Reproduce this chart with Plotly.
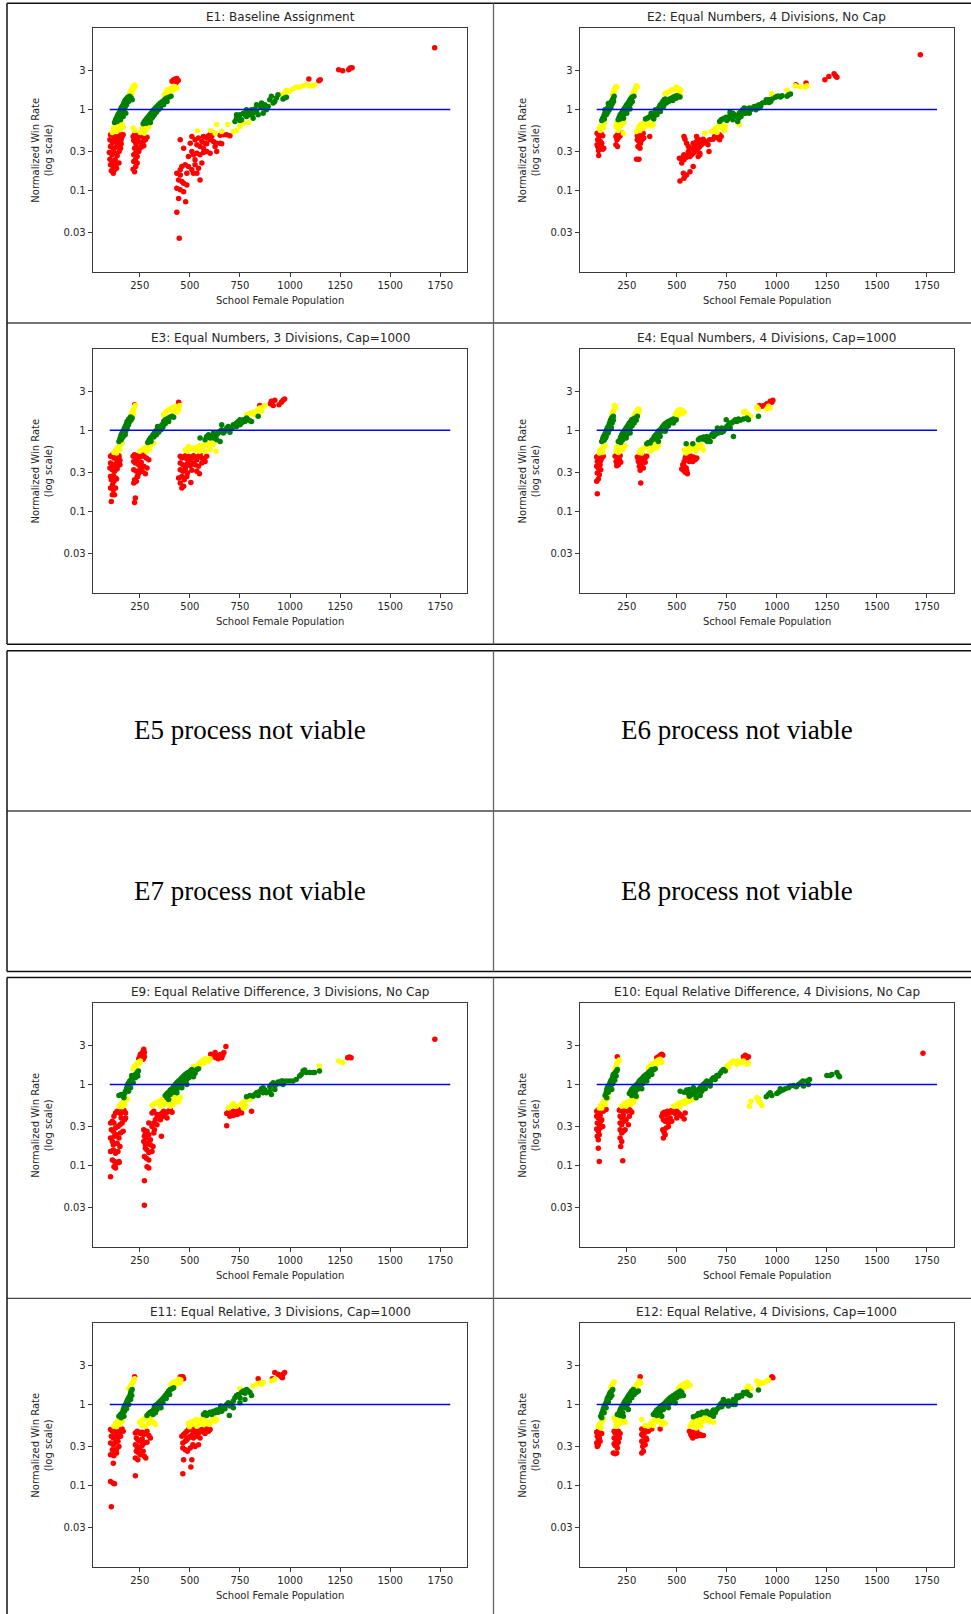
import plotly.graph_objects as go

# ---------------------------------------------------------------------------
# Data: (school female population, normalized win rate) per colour band
# ---------------------------------------------------------------------------
E1_RED = [(104,0.487),(113,0.50),(121,0.464),(129,0.487),(137,0.443),(146,0.473),(154,0.50),(162,0.464),(101,0.422),(113,0.392),(124,0.414),(137,0.377),(151,0.403),(157,0.422),(104,0.349),(118,0.324),(129,0.342),(141,0.356),(154,0.333),(98,0.295),(111,0.276),(124,0.289),(137,0.268),(147,0.303),(101,0.244),(114,0.228),(127,0.239),(137,0.218),(104,0.208),(118,0.194),(129,0.202),(108,0.176),(118,0.164),(124,0.18),(134,0.189),(146,0.218),(157,0.377),(167,0.487),
          (217,0.464),(224,0.487),(233,0.455),(240,0.473),(250,0.487),(262,0.464),(273,0.473),(286,0.455),(220,0.414),(230,0.384),(240,0.422),(253,0.392),(267,0.403),(278,0.422),(224,0.333),(233,0.349),(245,0.324),(257,0.342),(270,0.356),(220,0.276),(228,0.289),(237,0.263),(245,0.303),(220,0.228),(228,0.239),(237,0.218),(217,0.183),(224,0.171),(230,0.198),
          (411,2.22),(419,2.32),(427,2.37),(435,2.41),(442,2.28),(432,2.15),
          (469,0.333),(452,0.422),(502,0.384),(510,0.464),(526,0.422),(535,0.366),(543,0.443),(551,0.349),(560,0.403),(568,0.333),(576,0.384),(584,0.443),(593,0.473),(601,0.422),(609,0.464),(618,0.403),(626,0.349),(634,0.303),(651,0.384),(510,0.303),(518,0.276),(535,0.289),(551,0.276),(568,0.295),(584,0.303),(601,0.289),(493,0.263),(526,0.239),(560,0.218),(477,0.208),(493,0.198),(510,0.18),(526,0.208),(543,0.189),(460,0.198),(452,0.18),(435,0.164),(444,0.135),(460,0.129),(469,0.123),(435,0.107),(452,0.102),(469,0.097),(485,0.117),(551,0.135),(444,0.08),(435,0.054),(447,0.0258),(479,0.073),(535,0.164),(518,0.164),(452,0.156),(485,0.164),(584,0.377),(618,0.51),(604,0.50),(651,0.48),(667,0.487),(684,0.487),(700,0.473),(659,0.377),(634,0.384),(568,0.464),
          (1094,2.37),(1144,2.26),(1151,2.32),(1243,3.09),(1263,3.0),(1293,3.09),(1300,3.24),(1310,3.27),(1722,5.77)]
E1_YELLOW = [(195,1.48),(200,1.56),(204,1.67),(209,1.75),(214,1.83),(217,1.89),(220,1.96),(224,2.0),(227,1.92),(212,1.62),(207,1.52),(219,1.78),
             (113,0.52),(121,0.55),(129,0.57),(137,0.60),(146,0.617),(154,0.63),(162,0.65),(118,0.59),(134,0.535),(151,0.561),(167,0.605),
             (217,0.589),(224,0.55),(253,0.52),(267,0.535),(278,0.561),(286,0.589),(295,0.617),(262,0.589),(273,0.51),
             (373,1.52),(382,1.62),(391,1.72),(399,1.78),(407,1.83),(416,1.89),(422,1.92),(429,1.89),(435,1.83),(402,1.67),(386,1.75),(419,1.75),
             (538,0.545),(604,0.55),(634,0.65),(659,0.535),(689,0.65),(717,0.535),(733,0.55),(750,0.617),(767,0.678),(792,0.69),(626,0.51),
             (957,1.52),(973,1.62),(982,1.72),(998,1.67),(1015,1.78),(1031,1.89),(1048,1.89),(1065,1.96),(1081,2.02),(1098,1.96),(1114,1.96),(1122,2.02)]
E1_GREEN = [(124,0.69),(129,0.745),(134,0.78),(137,0.82),(141,0.86),(146,0.90),(151,0.945),(154,0.99),(157,1.04),(162,1.09),(167,1.14),(171,1.20),(174,1.25),(179,1.32),(184,1.35),(190,1.41),(200,1.45),(207,1.38),(212,1.32),(137,0.71),(147,0.80),(157,0.86),(164,0.92),(171,0.99),(177,1.07),(184,1.14),(194,1.25),(154,0.745),(167,0.82),(180,0.90),
            (267,0.665),(273,0.71),(280,0.745),(286,0.78),(293,0.82),(300,0.86),(306,0.90),(313,0.945),(320,0.99),(328,1.04),(336,1.09),(344,1.14),(353,1.20),(363,1.25),(373,1.32),(382,1.37),(394,1.41),(406,1.45),(283,0.678),(296,0.73),(310,0.78),(323,0.86),(333,0.92),(343,0.99),(353,1.04),(369,1.14),(386,1.25),(303,0.69),(316,0.82),(329,0.97),
            (725,0.71),(733,0.78),(742,0.82),(750,0.86),(758,0.745),(767,0.90),(775,0.86),(783,0.82),(791,0.945),(800,0.86),(808,0.99),(816,0.90),(824,1.01),(833,0.945),(841,0.86),(849,1.09),(858,1.20),(866,1.04),(874,1.14),(882,0.99),(891,1.09),(899,1.32),(907,1.45),(916,1.20),(924,1.25),(932,1.38),(940,1.52),(866,0.90),(783,0.99),(833,1.14),(973,1.38),(733,0.86),(750,0.73),(816,0.78),(965,1.34),(982,1.41)]

E2_RED = [(102,0.51),(109,0.487),(113,0.464),(122,0.50),(130,0.473),(105,0.422),(118,0.403),(125,0.384),(105,0.349),(113,0.333),(130,0.324),(109,0.312),(122,0.356),(135,0.333),(110,0.27),(102,0.366),
          (196,0.464),(204,0.487),(212,0.464),(220,0.50),(201,0.422),(207,0.443),(196,0.366),(204,0.349),(217,0.473),(229,0.51),
          (303,0.473),(311,0.50),(316,0.464),(322,0.487),(327,0.455),(332,0.51),(303,0.422),(311,0.403),(319,0.384),(327,0.422),(306,0.349),(316,0.333),(299,0.244),(311,0.244),(335,0.443),(365,0.464),
          (516,0.131),(525,0.218),(533,0.263),(536,0.276),(541,0.268),(513,0.25),(525,0.244),(536,0.239),(549,0.258),(558,0.276),(566,0.263),(574,0.276),(582,0.289),(590,0.303),(599,0.318),(607,0.333),(615,0.349),(623,0.366),(533,0.164),(541,0.152),(549,0.156),(536,0.142),(566,0.171),(582,0.198),(607,0.263),(615,0.289),(632,0.384),(648,0.403),(656,0.366),(664,0.422),(681,0.43),(689,0.464),(706,0.443),(714,0.487),(722,0.464),(714,0.422),(536,0.464),(541,0.43),(549,0.384),(558,0.349),(574,0.333),(590,0.349),(599,0.403),(607,0.377),(582,0.384),(599,0.464),(612,0.422),(618,0.403),(632,0.43),(645,0.392),(595,0.356),(661,0.303),(615,0.276),(558,0.303),
          (1095,2.02),(1146,2.11),(1240,2.32),(1260,2.55),(1286,2.75),(1293,2.6),(1300,2.5),(1717,4.73)]
E2_YELLOW = [(113,0.589),(122,0.63),(130,0.665),(138,0.69),(118,0.55),(135,0.605),
             (179,1.52),(184,1.62),(187,1.75),(192,1.83),(196,1.92),(201,1.89),(187,1.67),
             (196,0.617),(204,0.65),(212,0.589),(220,0.63),(229,0.665),(237,0.69),(207,0.55),(233,0.51),(201,0.69),(217,0.71),
             (278,1.52),(283,1.56),(286,1.62),(289,1.72),(294,1.83),(299,1.96),(303,1.89),
             (299,0.535),(306,0.57),(312,0.617),(319,0.65),(327,0.665),(335,0.678),(349,0.63),(360,0.678),(372,0.63),(382,0.65),(316,0.55),(332,0.589),(344,0.73),(355,0.71),
             (442,1.56),(451,1.62),(467,1.67),(475,1.75),(497,1.89),(503,1.83),(513,1.78),(516,1.52),(520,1.72),(508,1.59),(484,1.75),
             (640,0.51),(673,0.535),(689,0.57),(697,0.589),(701,0.52),(706,0.617),(714,0.65),(720,0.678),(727,0.589),(738,0.55),(743,0.617),(812,0.65),(974,1.56),(1051,1.72),
             (1092,1.96),(1117,1.89),(1142,1.89),(1150,1.96)]
E2_GREEN = [(125,0.73),(130,0.78),(135,0.82),(138,0.86),(141,0.90),(146,0.945),(151,0.99),(155,1.04),(160,1.09),(164,1.14),(169,1.2),(174,1.25),(179,1.32),(184,1.38),(187,1.45),(138,0.76),(148,0.86),(155,0.92),(163,0.99),(171,1.07),(178,1.18),(184,1.25),(141,0.99),(158,1.18),
            (207,0.745),(212,0.80),(217,0.86),(224,0.90),(229,0.945),(234,0.99),(240,1.04),(245,1.09),(250,1.14),(257,1.2),(262,1.25),(266,1.32),(273,1.38),(278,1.42),(286,1.45),(217,0.76),(229,0.83),(237,0.88),(245,0.945),(253,1.01),(262,1.09),(270,1.18),(278,1.25),(234,0.78),(250,0.90),(266,1.01),
            (344,0.76),(352,0.78),(360,0.80),(368,0.82),(377,0.86),(385,0.82),(393,0.90),(398,0.945),(405,0.99),(410,1.04),(414,1.09),(418,1.14),(426,1.2),(431,1.25),(437,1.32),(442,1.34),(451,1.29),(459,1.25),(467,1.32),(475,1.38),(484,1.42),(492,1.45),(500,1.47),(508,1.45),(516,1.42),(385,0.76),(401,0.86),(418,0.945),(434,1.09),(447,1.2),(464,1.34),(480,1.29),(497,1.37),(372,0.90),(393,0.99),(423,1.07),
            (714,0.71),(722,0.745),(730,0.76),(738,0.78),(747,0.80),(755,0.76),(763,0.82),(771,0.86),(780,0.90),(788,0.86),(796,0.82),(804,0.71),(809,0.78),(812,0.90),(821,0.945),(829,0.99),(837,1.04),(845,1.01),(854,0.945),(862,0.90),(870,0.99),(878,1.04),(887,1.09),(895,1.07),(903,1.11),(911,1.14),(919,1.09),(928,1.2),(941,1.22),(947,1.32),(961,1.32),(969,1.25),(977,1.34),(993,1.41),(1002,1.45),(1010,1.45),(1018,1.42),(1026,1.47),(1051,1.45),(1059,1.52),(1068,1.55),(780,0.745),(750,0.73),(766,0.92),(845,0.90),(862,1.04),(895,0.99),(911,1.04),(961,1.22),(821,0.82),(837,0.90),(854,1.01)]

E3_RED = [(104,0.478),(113,0.501),(121,0.455),(129,0.478),(137,0.434),(146,0.487),(104,0.395),(118,0.36),(129,0.388),(141,0.403),(151,0.426),(101,0.343),(113,0.327),(124,0.312),(137,0.333),(104,0.27),(118,0.275),(129,0.258),(108,0.246),(121,0.235),(134,0.251),(104,0.194),(118,0.185),(129,0.194),(113,0.161),(124,0.161),(108,0.133),(137,0.36),(151,0.377),(114,0.213),(146,0.455),
          (224,2.07),
          (217,0.478),(224,0.501),(233,0.455),(240,0.487),(250,0.47),(262,0.501),(270,0.478),(283,0.455),(295,0.434),(220,0.414),(228,0.395),(237,0.426),(245,0.377),(257,0.403),(270,0.36),(286,0.343),(220,0.327),(233,0.312),(245,0.297),(224,0.246),(233,0.235),(240,0.27),(220,0.224),(224,0.129),(228,0.146),(237,0.27),(262,0.312),(278,0.292),(253,0.343),
          (444,2.22),
          (452,0.478),(460,0.455),(469,0.47),(477,0.487),(485,0.443),(493,0.478),(502,0.434),(510,0.47),(518,0.487),(526,0.455),(535,0.434),(543,0.478),(551,0.501),(560,0.455),(568,0.434),(576,0.414),(452,0.395),(465,0.377),(477,0.36),(488,0.388),(502,0.367),(515,0.395),(526,0.377),(543,0.36),(560,0.395),(452,0.327),(465,0.312),(477,0.333),(488,0.297),(510,0.321),(535,0.312),(548,0.292),(444,0.258),(460,0.27),(472,0.246),(452,0.224),(469,0.204),(460,0.194),(505,0.228),(485,0.27),(584,0.478),
          (849,2.02),(902,2.13),(907,2.28),(916,2.02),(924,2.35),(945,2.07),(957,2.22),(965,2.35),(973,2.44)]
E3_YELLOW = [(121,0.535),(129,0.567),(137,0.605),(146,0.634),(154,0.665),(162,0.698),(134,0.525),(151,0.577),
             (207,1.56),(212,1.67),(217,1.77),(220,1.83),(224,1.94),(227,2.02),(217,1.61),
             (250,0.551),(262,0.577),(273,0.605),(286,0.634),(295,0.646),(303,0.665),(311,0.685),(283,0.551),(300,0.588),(320,0.698),
             (369,1.56),(377,1.64),(386,1.72),(394,1.80),(402,1.83),(411,1.89),(419,1.94),(427,1.98),(435,1.89),(444,1.80),(435,1.67),(419,1.72),(449,2.02),
             (477,0.577),(488,0.551),(502,0.588),(515,0.605),(526,0.567),(538,0.623),(551,0.646),(560,0.605),(571,0.665),(584,0.685),(597,0.646),(609,0.698),(618,0.665),(631,0.551),(601,0.577),(576,0.551),(493,0.634),(548,0.551),
             (783,1.56),(800,1.61),(816,1.67),(833,1.72),(841,1.80),(849,1.89),(866,1.94),(874,2.02),(858,1.72),(824,1.56)]
E3_GREEN = [(146,0.731),(151,0.782),(154,0.828),(157,0.876),(162,0.927),(167,0.972),(171,1.02),(174,1.07),(179,1.14),(184,1.21),(187,1.29),(195,1.38),(204,1.46),(212,1.42),(157,0.767),(167,0.843),(174,0.91),(180,0.972),(187,1.07),(194,1.17),(200,1.29),(207,1.35),(162,0.804),(177,0.884),
            (290,0.711),(296,0.753),(303,0.804),(311,0.843),(316,0.884),(323,0.927),(329,0.972),(336,1.02),(344,1.07),(353,1.12),(361,1.17),(369,1.29),(377,1.35),(386,1.38),(394,1.42),(402,1.46),(411,1.49),(419,1.45),(306,0.731),(320,0.828),(333,0.884),(344,0.945),(356,1.02),(366,1.10),(377,1.21),(394,1.29),(339,1.12),
            (551,0.804),(576,0.767),(584,0.843),(593,0.884),(601,0.804),(609,0.86),(618,0.927),(626,0.843),(634,0.884),(642,0.927),(651,0.972),(659,1.02),(667,0.927),(675,0.972),(684,1.07),(692,1.12),(700,1.02),(709,1.07),(717,1.17),(725,1.12),(733,1.23),(742,1.29),(750,1.35),(758,1.23),(767,1.35),(775,1.29),(783,1.42),(791,1.35),(800,1.31),(841,1.49),(659,1.17),(651,0.731),(634,0.767),(700,0.945),(733,1.12),(750,1.17),(808,1.29),(618,0.804)]

E4_RED = [(100,0.47),(108,0.487),(117,0.443),(103,0.414),(113,0.395),(120,0.426),(100,0.36),(108,0.343),(117,0.377),(103,0.297),(113,0.284),(108,0.251),(100,0.235),(103,0.165),(125,0.455),(133,0.478),(120,0.327),
          (192,0.478),(200,0.501),(208,0.47),(217,0.487),(197,0.414),(203,0.395),(213,0.434),(200,0.367),(208,0.377),(220,0.403),
          (303,0.47),(313,0.487),(325,0.47),(333,0.487),(342,0.455),(350,0.478),(308,0.414),(320,0.395),(330,0.426),(342,0.403),(313,0.36),(325,0.367),(333,0.343),(317,0.321),(320,0.224),(308,0.443),
          (530,0.377),(537,0.414),(542,0.455),(547,0.487),(553,0.501),(558,0.47),(567,0.487),(575,0.443),(583,0.47),(592,0.434),(600,0.455),(533,0.321),(542,0.304),(550,0.312),(537,0.36),(563,0.414),(580,0.414),(553,0.292),(547,0.343),(525,0.333),
          (913,2.02),(925,1.98),(937,2.02),(950,2.13),(967,2.28),(975,2.22),(980,2.35)]
E4_YELLOW = [(113,0.525),(120,0.551),(125,0.588),(133,0.623),(142,0.646),(117,0.567),(130,0.535),
             (175,1.56),(180,1.64),(183,1.72),(187,1.80),(190,1.89),(193,1.98),(188,2.02),
             (197,0.551),(203,0.577),(213,0.605),(225,0.634),(233,0.665),(242,0.646),(208,0.535),(230,0.577),(200,0.623),
             (287,1.49),(293,1.61),(300,1.67),(303,1.77),(308,1.83),(313,1.80),(308,1.64),
             (313,0.535),(320,0.567),(330,0.588),(337,0.605),(347,0.623),(358,0.646),(370,0.665),(383,0.685),(400,0.605),(380,0.588),(367,0.551),(325,0.525),(408,0.646),
             (492,1.56),(500,1.67),(508,1.77),(517,1.80),(525,1.77),(533,1.72),(513,1.61),(503,1.49),(530,1.61),(537,1.67),
             (537,0.567),(550,0.577),(563,0.551),(575,0.588),(583,0.623),(592,0.646),(600,0.634),(608,0.605),(617,0.665),(625,0.634),(633,0.577),(597,0.551),(558,0.634),(547,0.525),
             (833,1.67),(842,1.72),(850,1.61),(858,1.56),(870,1.49),(900,1.94),(908,1.83),(950,1.83),(958,1.98),(967,1.89)]
E4_GREEN = [(125,0.731),(130,0.782),(133,0.828),(137,0.86),(142,0.91),(147,0.972),(150,1.02),(153,1.07),(158,1.12),(163,1.21),(167,1.29),(170,1.35),(175,1.42),(180,1.46),(183,1.49),(137,0.753),(147,0.843),(157,0.927),(163,1.02),(170,1.12),(177,1.23),(183,1.33),(143,0.797),(173,1.07),
            (208,0.731),(217,0.782),(220,0.828),(225,0.884),(230,0.927),(237,0.972),(242,1.02),(247,1.07),(253,1.12),(258,1.17),(263,1.23),(270,1.29),(275,1.35),(283,1.38),(292,1.42),(303,1.49),(220,0.711),(230,0.767),(242,0.843),(250,0.884),(258,0.972),(267,1.04),(277,1.14),(287,1.23),(297,1.33),(247,0.804),(267,0.927),
            (350,0.685),(358,0.711),(367,0.698),(375,0.753),(383,0.782),(387,0.828),(392,0.86),(397,0.884),(403,0.927),(408,0.972),(417,1.02),(425,1.07),(430,1.12),(437,1.17),(442,1.21),(450,1.25),(458,1.29),(467,1.31),(475,1.35),(483,1.38),(492,1.33),(497,1.35),(397,0.782),(413,0.884),(425,0.972),(437,1.04),(450,1.10),(467,1.23),(483,1.23),(417,0.843),(408,0.731),(442,0.972),(458,1.14),
            (547,0.685),(580,0.685),(608,0.767),(617,0.804),(625,0.782),(633,0.828),(642,0.767),(650,0.843),(658,0.804),(667,0.731),(675,0.884),(683,0.927),(692,0.884),(700,0.972),(708,0.927),(717,1.02),(725,1.07),(733,0.972),(742,1.04),(750,1.12),(758,1.17),(767,1.07),(775,1.23),(783,1.29),(792,1.35),(800,1.29),(808,1.38),(817,1.33),(833,1.38),(850,1.42),(858,1.35),(783,0.843),(747,1.35),(767,1.23),(725,0.945),(683,0.843),(653,0.731),(703,1.07),(908,1.49)]

E9_RED = [(104,0.073),(104,0.335),(113,0.351),(121,0.405),(129,0.446),(137,0.467),(146,0.454),(154,0.437),(162,0.467),(171,0.481),(179,0.446),(108,0.277),(118,0.264),(129,0.29),(141,0.304),(151,0.319),(162,0.335),(174,0.368),(104,0.218),(113,0.198),(124,0.229),(134,0.24),(146,0.218),(154,0.252),(167,0.264),(104,0.149),(118,0.156),(129,0.142),(141,0.149),(151,0.172),(113,0.117),(124,0.112),(134,0.107),(146,0.112),(121,0.097),(129,0.093),(147,0.109),(179,0.386),(157,0.386),(121,0.335),(137,0.189),(118,0.18),
          (245,2.08),(250,2.20),(253,2.35),(257,2.29),(262,2.42),(267,2.59),(270,2.72),(273,2.20),(267,2.04),(262,2.14),(273,2.47),
          (270,0.277),(278,0.252),(286,0.264),(273,0.229),(283,0.218),(295,0.24),(270,0.198),(278,0.18),(286,0.189),(303,0.208),(278,0.164),(286,0.156),(295,0.145),(273,0.129),(283,0.123),(295,0.117),(286,0.097),(295,0.093),(273,0.065),(273,0.0325),(311,0.304),(320,0.335),(328,0.368),(336,0.386),(344,0.405),(353,0.425),(361,0.446),(369,0.467),(377,0.437),(386,0.454),(394,0.467),(402,0.49),(411,0.454),(311,0.446),(320,0.467),(336,0.425),(353,0.368),(369,0.405),(386,0.386),(320,0.252),(323,0.277),(303,0.18),(316,0.172),(358,0.229),(311,0.149),(336,0.319),(295,0.335),
          (604,2.35),(614,2.20),(621,2.29),(626,2.47),(631,2.14),(637,2.25),(642,2.08),(647,2.20),(654,2.35),(659,2.14),(664,2.29),(670,2.47),(680,2.93),
          (684,0.437),(692,0.454),(700,0.425),(709,0.446),(717,0.467),(725,0.437),(733,0.454),(742,0.49),(750,0.467),(758,0.446),(684,0.31),(700,0.405),(717,0.413),(737,0.425),(808,0.467),
          (1288,2.14),(1296,2.18),(1305,2.14),(1723,3.61)]
E9_YELLOW = [(146,0.539),(157,0.581),(167,0.604),(179,0.64),(187,0.664),(162,0.529),(174,0.565),
             (217,1.56),(224,1.66),(228,1.72),(237,1.82),(245,1.89),(253,1.95),(233,1.61),(250,1.82),
             (311,0.549),(323,0.581),(336,0.604),(349,0.621),(361,0.652),(369,0.565),(382,0.593),(394,0.621),(406,0.64),(419,0.664),(432,0.604),(444,0.621),(402,0.539),(416,0.565),(427,0.717),(452,0.684),(353,0.539),
             (518,1.66),(526,1.61),(535,1.69),(543,1.77),(551,1.86),(560,1.95),(568,2.0),(576,2.08),(584,2.04),(593,1.95),(601,2.08),(548,1.66),(571,1.82),
             (692,0.514),(709,0.549),(717,0.581),(733,0.539),(754,0.565),(763,0.593),(775,0.621),(783,0.664),(791,0.717),(780,0.539),(767,0.514),(800,0.652),
             (1147,1.69),(1243,1.95),(1263,1.86)]
E9_GREEN = [(146,0.731),(157,0.751),(167,0.717),(174,0.773),(179,0.827),(184,0.884),(187,0.954),(190,1.0),(195,1.05),(200,1.10),(207,1.15),(212,1.21),(220,1.27),(228,1.33),(237,1.40),(243,1.46),(204,0.909),(217,1.05),(228,1.21),(171,0.684),(194,0.827),(210,1.29),(240,1.27),
            (377,0.731),(386,0.773),(394,0.803),(402,0.851),(411,0.884),(419,0.936),(427,1.0),(435,1.05),(444,1.10),(452,1.15),(460,1.21),(469,1.27),(477,1.33),(485,1.37),(493,1.40),(502,1.46),(510,1.53),(518,1.46),(535,1.53),(543,1.56),(386,0.684),(402,0.751),(419,0.803),(432,0.867),(444,0.909),(455,0.972),(469,1.05),(482,1.13),(495,1.21),(510,1.29),(526,1.37),(435,0.788),(460,0.909),(485,1.0),(394,0.652),(439,1.07),(465,1.11),(498,1.24),(518,1.24),
            (783,0.703),(800,0.731),(816,0.717),(824,0.751),(833,0.788),(841,0.731),(849,0.827),(858,0.884),(866,0.909),(874,0.851),(882,0.788),(899,0.936),(907,1.0),(916,1.05),(924,0.954),(932,1.0),(940,1.07),(949,1.03),(957,1.10),(965,1.10),(982,1.10),(998,1.10),(1015,1.10),(1031,1.15),(1048,1.27),(1056,1.33),(1065,1.46),(1073,1.51),(1081,1.40),(1098,1.40),(1114,1.40),(1122,1.40),(1147,1.46),(899,0.827),(907,0.751),(866,0.788),(924,0.867),(965,1.0)]

E10_RED = [(100,0.467),(108,0.49),(117,0.454),(125,0.481),(133,0.467),(147,0.49),(100,0.405),(108,0.386),(117,0.413),(125,0.368),(103,0.335),(113,0.319),(120,0.351),(100,0.282),(108,0.264),(117,0.29),(103,0.229),(113,0.24),(108,0.208),(108,0.164),(113,0.112),(130,0.304),
           (203,2.20),
           (213,0.481),(220,0.499),(230,0.467),(242,0.49),(250,0.467),(258,0.499),(267,0.481),(275,0.454),(217,0.405),(225,0.386),(233,0.413),(247,0.368),(217,0.335),(225,0.319),(237,0.351),(258,0.319),(217,0.277),(225,0.252),(233,0.264),(217,0.218),(225,0.198),(220,0.172),(230,0.115),(242,0.277),(263,0.405),
           (400,2.14),(408,2.20),(417,2.29),(425,2.35),(430,2.29),
           (430,0.437),(437,0.454),(447,0.425),(453,0.467),(463,0.446),(475,0.481),(483,0.454),(492,0.437),(500,0.467),(508,0.446),(517,0.425),(525,0.405),(537,0.375),(542,0.446),(433,0.368),(442,0.351),(450,0.368),(458,0.335),(467,0.386),(430,0.277),(437,0.256),(447,0.29),(458,0.304),(433,0.218),(442,0.24),(475,0.351),(500,0.386),(425,0.405),
           (833,2.20),(842,2.29),(850,2.14),(858,2.20),
           (1730,2.42)]
E10_YELLOW = [(113,0.514),(120,0.549),(130,0.593),(137,0.621),(147,0.652),(158,0.684),(125,0.514),(142,0.565),
              (192,1.56),(197,1.66),(200,1.77),(203,1.86),(208,1.95),(213,2.0),
              (225,0.539),(237,0.581),(250,0.604),(263,0.621),(275,0.652),(283,0.604),(292,0.664),(300,0.684),(247,0.539),(270,0.565),
              (358,1.61),(367,1.69),(375,1.77),(383,1.82),(392,1.86),(400,1.95),(408,2.0),(417,2.04),(400,1.77),(425,1.86),
              (483,0.539),(500,0.565),(513,0.593),(517,0.529),(525,0.604),(537,0.621),(542,0.581),(550,0.64),(558,0.684),(563,0.621),(575,0.652),(583,0.717),(587,0.664),
              (750,1.69),(758,1.61),(763,1.77),(775,1.89),(783,1.95),(792,1.86),(800,1.77),(808,1.95),(813,1.82),(825,1.86),(833,1.95),(850,1.77),(858,1.82),
              (863,0.539),(870,0.621),(900,0.684),(908,0.621),(917,0.593),(925,0.549),(908,0.664)]
E10_GREEN = [(142,0.731),(147,0.788),(150,0.851),(153,0.909),(158,0.954),(163,1.0),(167,1.05),(170,1.10),(175,1.15),(180,1.24),(183,1.33),(192,1.40),(200,1.46),(203,1.53),(158,0.803),(170,0.936),(180,1.03),(190,1.13),(197,1.27),(150,0.684),(175,0.867),
             (263,0.773),(270,0.827),(275,0.867),(283,0.909),(287,0.827),(292,0.954),(300,1.0),(308,1.05),(313,1.10),(320,1.15),(330,1.21),(337,1.27),(347,1.33),(358,1.40),(367,1.46),(375,1.53),(383,1.51),(392,1.56),(275,0.731),(292,0.773),(303,0.867),(317,0.936),(330,1.03),(342,1.13),(358,1.24),(325,0.884),(297,0.717),(350,1.10),(375,1.33),
             (517,0.827),(537,0.803),(550,0.851),(558,0.773),(563,0.717),(575,0.751),(583,0.788),(592,0.773),(600,0.827),(608,0.867),(617,0.909),(625,0.954),(633,1.0),(642,1.05),(650,1.10),(658,1.0),(667,1.05),(675,1.15),(683,1.21),(700,1.29),(717,1.37),(725,1.46),(733,1.53),(742,1.46),(597,0.684),(617,0.731),(642,0.884),(667,0.954),(692,1.15),(708,1.27),(563,0.867),(583,0.909),(625,0.827),
             (947,0.703),(958,0.751),(967,0.788),(975,0.731),(1000,0.773),(1008,0.803),(1017,0.827),(1030,0.851),(1042,0.884),(1058,0.909),(1067,0.954),(1083,0.972),(1097,0.936),(1108,1.0),(1120,1.05),(1130,1.10),(1150,1.10),(1158,1.0),(1163,1.15),(1250,1.29),(1267,1.29),(1275,1.33),(1300,1.40),(1308,1.29),(1313,1.24),(1133,0.954),(1017,0.884)]

E11_RED = [(104,0.49),(113,0.467),(121,0.499),(129,0.481),(137,0.454),(146,0.49),(154,0.467),(162,0.499),(108,0.405),(118,0.386),(129,0.413),(141,0.397),(154,0.405),(104,0.335),(118,0.319),(129,0.341),(141,0.351),(113,0.277),(124,0.264),(134,0.282),(146,0.304),(104,0.24),(121,0.233),(134,0.252),(118,0.189),(104,0.112),(118,0.107),(124,0.105),(108,0.055),(167,0.467),
           (224,2.20),
           (228,0.446),(237,0.467),(245,0.454),(253,0.437),(262,0.454),(270,0.425),(278,0.437),(286,0.467),(295,0.413),(303,0.386),(233,0.386),(240,0.368),(250,0.351),(262,0.376),(273,0.335),(286,0.341),(228,0.319),(237,0.304),(250,0.29),(262,0.311),(233,0.264),(245,0.252),(228,0.218),(240,0.208),(253,0.24),(273,0.229),(280,0.218),(228,0.132),(237,0.277),(267,0.264),
           (452,2.20),(460,2.14),(465,2.20),(469,2.08),
           (460,0.405),(469,0.425),(477,0.446),(485,0.467),(493,0.49),(502,0.514),(510,0.481),(518,0.499),(526,0.454),(535,0.49),(543,0.446),(551,0.467),(560,0.49),(568,0.454),(576,0.437),(593,0.467),(601,0.49),(465,0.335),(477,0.351),(485,0.368),(493,0.386),(502,0.405),(510,0.413),(518,0.386),(535,0.405),(465,0.29),(477,0.277),(488,0.264),(502,0.29),(515,0.319),(526,0.304),(469,0.208),(510,0.208),(465,0.14),(505,0.169),(485,0.386),(551,0.386),(584,0.499),(543,0.319),
           (841,2.08),(912,2.08),(924,2.47),(940,2.35),(949,2.29),(957,2.20),(962,2.14),(965,2.35),(973,2.47)]
E11_YELLOW = [(121,0.539),(129,0.581),(137,0.604),(146,0.64),(154,0.664),(162,0.621),(134,0.529),(151,0.565),
              (195,1.56),(204,1.69),(207,1.56),(212,1.82),(217,1.89),(220,2.0),(224,2.08),
              (250,0.604),(262,0.64),(273,0.664),(286,0.684),(300,0.664),(311,0.621),(320,0.593),(328,0.565),(278,0.539),(295,0.581),(262,0.549),(303,0.717),
              (406,1.77),(416,1.86),(422,1.89),(427,1.72),(432,1.95),(439,1.89),(444,2.04),(449,1.82),(455,2.0),
              (493,0.581),(498,0.529),(502,0.604),(510,0.565),(518,0.621),(532,0.652),(535,0.539),(543,0.593),(551,0.621),(560,0.664),(568,0.565),(571,0.64),(584,0.604),(597,0.565),(609,0.64),(618,0.684),(626,0.621),(634,0.652),
              (750,1.56),(816,1.69),(833,1.77),(846,1.82),(858,1.77),(866,1.86),(907,1.95),(924,2.04)]
E11_GREEN = [(146,0.717),(154,0.751),(162,0.788),(167,0.851),(171,0.909),(174,0.954),(179,1.0),(184,1.05),(187,1.10),(190,1.15),(195,1.21),(200,1.27),(204,1.37),(207,1.46),(212,1.53),(157,0.684),(174,0.827),(184,0.884),(195,1.0),(204,1.15),(210,1.29),(171,0.717),
             (286,0.731),(295,0.773),(303,0.803),(311,0.827),(320,0.867),(323,0.936),(328,0.972),(336,1.0),(344,1.05),(353,1.10),(361,1.15),(369,1.21),(377,1.29),(386,1.37),(394,1.46),(402,1.53),(411,1.56),(419,1.61),(316,0.751),(336,0.867),(349,0.954),(366,1.05),(382,1.18),(399,1.33),(328,0.788),(356,0.909),
             (568,0.751),(576,0.788),(584,0.731),(593,0.773),(601,0.803),(609,0.751),(618,0.827),(626,0.788),(634,0.851),(642,0.803),(651,0.884),(659,0.827),(667,0.936),(675,0.884),(684,1.0),(692,1.05),(700,0.954),(709,1.03),(717,1.10),(725,1.21),(733,1.29),(742,1.33),(750,1.21),(758,1.40),(767,1.46),(775,1.37),(783,1.53),(791,1.46),(800,1.40),(808,1.29),(697,0.731),(654,0.954),(717,0.909),(750,1.05),(775,1.15)]

E12_RED = [(100,0.454),(108,0.467),(117,0.446),(103,0.405),(113,0.386),(108,0.368),(100,0.335),(108,0.319),(103,0.304),(117,0.351),(125,0.437),
           (187,0.467),(192,0.446),(200,0.454),(208,0.467),(217,0.437),(187,0.386),(197,0.368),(203,0.405),(213,0.386),(187,0.328),(192,0.311),(200,0.319),(208,0.341),(183,0.252),(192,0.247),(200,0.252),(203,0.29),
           (317,2.20),
           (325,0.499),(333,0.481),(342,0.454),(350,0.49),(358,0.467),(367,0.499),(325,0.425),(333,0.405),(347,0.386),(325,0.351),(333,0.335),(342,0.319),(330,0.304),(325,0.252),(333,0.264),(350,0.368),(375,0.499),(417,0.499),
           (563,0.467),(570,0.425),(575,0.405),(583,0.454),(592,0.437),(600,0.467),(608,0.413),(617,0.425),(625,0.413),(633,0.413),(580,0.386),(597,0.405),
           (975,2.20),(980,2.14)]
E12_YELLOW = [(108,0.529),(113,0.565),(117,0.581),(120,0.514),(125,0.604),(130,0.64),(133,0.664),
              (170,1.61),(175,1.69),(177,1.56),(180,1.77),(183,1.86),(187,1.89),
              (187,0.684),(192,0.64),(197,0.539),(200,0.604),(208,0.565),(217,0.593),(225,0.621),(233,0.64),(242,0.604),(217,0.664),(233,0.684),
              (287,1.61),(297,1.69),(300,1.56),(303,1.77),(308,1.86),(313,1.95),(320,1.82),
              (325,0.652),(342,0.549),(358,0.539),(370,0.581),(380,0.621),(383,0.549),(392,0.652),(400,0.717),(403,0.621),(417,0.64),(425,0.565),(430,0.604),(442,0.581),
              (508,1.56),(517,1.66),(525,1.72),(533,1.77),(537,1.61),(542,1.82),(550,1.77),(553,1.86),(558,1.69),(567,1.72),
              (567,0.539),(575,0.581),(583,0.621),(592,0.565),(597,0.514),(600,0.593),(608,0.64),(617,0.604),(620,0.539),(625,0.664),(633,0.621),(642,0.684),(650,0.64),(658,0.664),(667,0.621),(683,0.604),
              (850,1.61),(858,1.69),(870,1.56),(900,1.95),(908,1.77),(917,1.86),(925,1.82),(942,1.89),(950,1.95),(958,2.0)]
E12_GREEN = [(120,0.717),(125,0.773),(130,0.827),(133,0.884),(137,0.936),(142,1.0),(147,1.05),(150,1.10),(153,1.18),(158,1.24),(163,1.33),(167,1.40),(175,1.46),(180,1.53),(137,0.788),(147,0.909),(158,1.07),(167,1.21),(125,0.684),(175,1.29),
             (203,0.751),(213,0.803),(217,0.851),(220,0.884),(225,0.936),(230,0.972),(233,1.0),(237,1.05),(242,1.10),(247,1.15),(253,1.21),(258,1.27),(263,1.33),(270,1.40),(275,1.46),(283,1.53),(217,0.731),(230,0.788),(242,0.909),(253,1.0),(263,1.10),(275,1.21),(287,1.33),(297,1.40),(308,1.46),(233,0.717),(258,0.867),
             (383,0.751),(392,0.803),(400,0.851),(408,0.884),(417,0.936),(425,0.972),(433,1.0),(442,1.05),(450,1.10),(458,1.15),(467,1.21),(475,1.24),(483,1.29),(492,1.33),(500,1.37),(508,1.40),(517,1.46),(525,1.40),(533,1.29),(400,0.731),(417,0.788),(433,0.867),(450,0.954),(467,1.05),(483,1.13),(500,1.21),(517,1.27),(425,0.717),(458,0.909),(492,1.05),
             (583,0.703),(600,0.731),(608,0.773),(617,0.751),(625,0.803),(633,0.788),(642,0.788),(650,0.827),(658,0.773),(667,0.751),(675,0.803),(683,0.851),(692,0.788),(700,0.867),(708,0.909),(717,1.0),(725,1.05),(733,1.0),(742,1.07),(750,1.03),(758,1.10),(767,1.0),(775,1.05),(783,1.15),(792,1.10),(800,1.27),(808,1.21),(817,1.29),(825,1.27),(833,1.40),(842,1.37),(850,1.42),(858,1.33),(867,1.29),(908,1.51),(725,0.936),(758,0.954),(783,1.0),(683,0.717),(733,1.15),(792,1.0)]

TITLES = ["E1: Baseline Assignment",
          "E2: Equal Numbers, 4 Divisions, No Cap",
          "E3: Equal Numbers, 3 Divisions, Cap=1000",
          "E4: Equal Numbers, 4 Divisions, Cap=1000",
          "E9: Equal Relative Difference, 3 Divisions, No Cap",
          "E10: Equal Relative Difference, 4 Divisions, No Cap",
          "E11: Equal Relative, 3 Divisions, Cap=1000",
          "E12: Equal Relative, 4 Divisions, Cap=1000"]
PANEL_DATA = [(E1_RED, E1_YELLOW, E1_GREEN), (E2_RED, E2_YELLOW, E2_GREEN),
              (E3_RED, E3_YELLOW, E3_GREEN), (E4_RED, E4_YELLOW, E4_GREEN),
              (E9_RED, E9_YELLOW, E9_GREEN), (E10_RED, E10_YELLOW, E10_GREEN),
              (E11_RED, E11_YELLOW, E11_GREEN), (E12_RED, E12_YELLOW, E12_GREEN)]
NOT_VIABLE = ["E5 process not viable", "E6 process not viable",
              "E7 process not viable", "E8 process not viable"]

X_TICKS = [250, 500, 750, 1000, 1250, 1500, 1750]
Y_TICKS = [0.03, 0.1, 0.3, 1, 3]
Y_TICK_TEXT = ["0.03", "0.1", "0.3", "1", "3"]
REFERENCE_X = [100, 1800]
REFERENCE_Y = [1, 1]

# ---------------------------------------------------------------------------
# Page geometry (pixels)
# ---------------------------------------------------------------------------
W, H = 971, 1614
COL_X = [(92.7, 467.3), (579.7, 954.0)]          # plot-area left/right per column
ROW_Y = [(28.3, 271.7), (349.3, 592.5), (1003.3, 1246.7), (1323.3, 1566.7)]
COLORS = ["#ff0000", "#ffff00", "#008000"]
FONT = "DejaVu Sans"
INK = "#262626"


def px(x):
    return x / W


def py(y):
    return 1 - y / H


fig = go.Figure()
annotations = []
layout_axes = {}

for i, (title, groups) in enumerate(zip(TITLES, PANEL_DATA)):
    n = i + 1
    col = i % 2
    row = i // 2
    x0, x1 = COL_X[col]
    y0, y1 = ROW_Y[row]
    xa = "x" if n == 1 else f"x{n}"
    ya = "y" if n == 1 else f"y{n}"

    for pts, color in zip(groups, COLORS):
        fig.add_trace(go.Scatter(
            x=[p[0] for p in pts], y=[p[1] for p in pts], mode="markers",
            marker=dict(size=5.5, color=color, line=dict(width=0)),
            xaxis=xa, yaxis=ya, showlegend=False, hoverinfo="skip"))
    fig.add_trace(go.Scatter(
        x=REFERENCE_X, y=REFERENCE_Y, mode="lines",
        line=dict(color="#0000ff", width=1.5),
        xaxis=xa, yaxis=ya, showlegend=False, hoverinfo="skip"))

    common = dict(showgrid=False, zeroline=False, showline=True, mirror=True,
                  linecolor="#3a3a3a", linewidth=1, ticks="outside", ticklen=4,
                  tickwidth=1, tickcolor="#3a3a3a",
                  tickfont=dict(family=FONT, size=10, color=INK))
    layout_axes["xaxis" if n == 1 else f"xaxis{n}"] = dict(
        domain=[px(x0), px(x1)], range=[15, 1885], tickvals=X_TICKS,
        anchor=ya, **common)
    layout_axes["yaxis" if n == 1 else f"yaxis{n}"] = dict(
        domain=[py(y1), py(y0)], type="log", range=[-2, 1],
        tickvals=Y_TICKS, ticktext=Y_TICK_TEXT, anchor=xa, **common)

    cx = (x0 + x1) / 2
    annotations.append(dict(text=title, x=px(cx), y=py(y0 - 11), xref="paper", yref="paper",
                            showarrow=False, xanchor="center", yanchor="middle",
                            font=dict(family=FONT, size=12, color=INK)))
    annotations.append(dict(text="School Female Population", x=px(cx), y=py(y1 + 29),
                            xref="paper", yref="paper", showarrow=False,
                            xanchor="center", yanchor="middle",
                            font=dict(family=FONT, size=10, color=INK)))
    annotations.append(dict(text="Normalized Win Rate<br>(log scale)", x=px(x0 - 51),
                            y=py((y0 + y1) / 2), xref="paper", yref="paper",
                            showarrow=False, textangle=-90, xanchor="center",
                            yanchor="middle",
                            font=dict(family=FONT, size=10, color=INK)))

# cells with no chart
for j, text in enumerate(NOT_VIABLE):
    cx = 250.3 if j % 2 == 0 else 736.8
    cy = 729.5 if j < 2 else 890.5
    annotations.append(dict(text=text, x=px(cx), y=py(cy), xref="paper", yref="paper",
                            showarrow=False, xanchor="center", yanchor="middle",
                            font=dict(family="Liberation Serif", size=27, color="#000000")))

# table rules
shapes = []


def hline(y, color, width):
    shapes.append(dict(type="line", xref="paper", yref="paper", x0=px(7), x1=1.0,
                       y0=py(y), y1=py(y), line=dict(color=color, width=width)))


def vline(x, ya, yb, color, width):
    shapes.append(dict(type="line", xref="paper", yref="paper", x0=px(x), x1=px(x),
                       y0=py(ya), y1=py(yb), line=dict(color=color, width=width)))


BLOCKS = [(3.3, 323.0, 644.3), (650.7, 811.0, 971.5), (977.5, 1298.3, 1616.0)]
for top, mid, bottom in BLOCKS:
    hline(top, "#111111", 1.5)
    hline(mid, "#444444", 1.3)
    if bottom < H:
        hline(bottom, "#111111", 1.5)
    vline(7, top, bottom, "#111111", 1.5)
    vline(493.5, top, bottom, "#666666", 1.3)

fig.update_layout(width=W, height=H, margin=dict(l=0, r=0, t=0, b=0),
                  paper_bgcolor="white", plot_bgcolor="white",
                  annotations=annotations, shapes=shapes, **layout_axes)

fig.write_html("out.html")
